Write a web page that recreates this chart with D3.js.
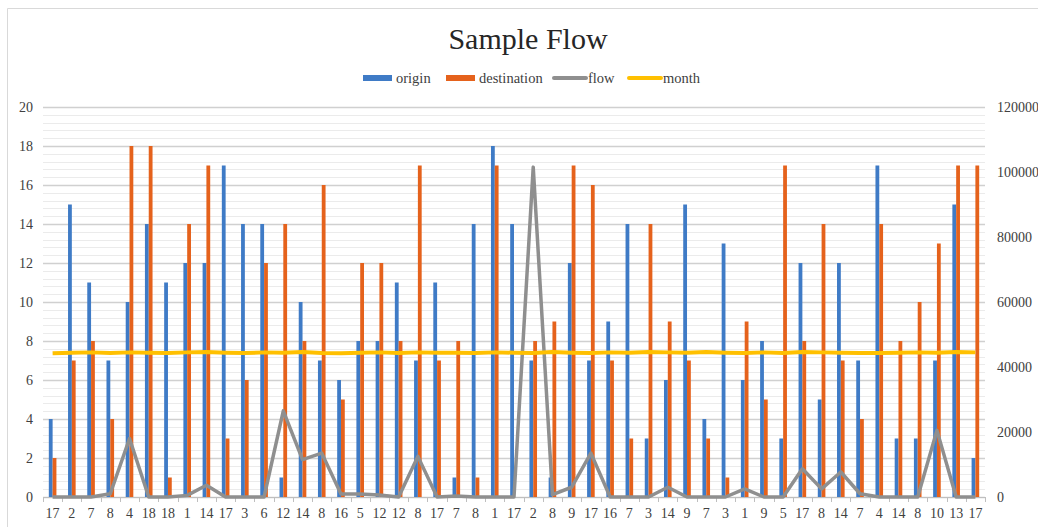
<!DOCTYPE html>
<html>
<head>
<meta charset="utf-8">
<script src="https://cdn.jsdelivr.net/npm/d3@7"></script>
<style>
body { margin: 0; background: #fff; }
svg text { font-family: "Liberation Serif", "DejaVu Serif", serif !important; fill: #404040; }
</style>
</head>
<body>
<div id="chart"></div>
<script>
// data
var labels = [17,2,7,8,4,18,18,1,14,17,3,6,12,14,8,16,5,12,12,8,17,7,8,1,17,2,8,9,17,16,7,3,14,9,7,3,1,9,5,17,8,14,7,4,14,8,10,13,17];
var origin = [4,15,11,7,10,14,11,12,12,17,14,14,1,10,7,6,8,8,11,7,11,1,14,18,14,7,1,12,7,9,14,3,6,15,4,13,6,8,3,12,5,12,7,17,3,3,7,15,2];
var destination = [2,7,8,4,18,18,1,14,17,3,6,12,14,8,16,5,12,12,8,17,7,8,1,17,0,8,9,17,16,7,3,14,9,7,3,1,9,5,17,8,14,7,4,14,8,10,13,17,17];
var flow = [0,0,0,1000,18000,0,0,500,3600,0,0,0,26500,11500,13500,900,900,600,0,12500,0,300,0,0,0,101500,700,3000,13500,0,0,0,3000,0,0,0,2500,0,0,8700,2500,7700,1000,0,0,0,20500,0,0];
var month = [44200,44400,44500,44300,44500,44400,44300,44500,44600,44400,44300,44500,44400,44600,44300,44200,44400,44500,44300,44500,44400,44400,44300,44500,44400,44300,44600,44400,44300,44500,44400,44600,44500,44400,44600,44400,44300,44500,44300,44600,44500,44400,44300,44300,44400,44500,44400,44600,44500];
var leftTicks = [0,2,4,6,8,10,12,14,16,18,20];
var rightTicks = [0,20000,40000,60000,80000,100000,120000];

var svgWidth = 1038,
	svgHeight = 527;

var margin = {t:107, r:53, b:30, l:43};
var width = svgWidth - margin.l - margin.r,
	height = svgHeight - margin.t - margin.b;

var svg = d3.select('#chart')
	.append('svg')
	.attr('width', svgWidth)
	.attr('height', svgHeight);

// chart frame
svg.append('path')
	.attr('d', `M7.5,${svgHeight} V8.5 H${svgWidth}`)
	.attr('fill', 'none')
	.attr('stroke', '#d9d9d9');

var chart = svg.append('g')
	.attr('transform', `translate(${margin.l},${margin.t})`);

var idx = d3.range(labels.length);

var xScale = d3.scaleBand()
	.domain(idx)
	.range([0, width]);

var xSub = d3.scaleBand()
	.domain(['origin','destination'])
	.range([-3.8, 3.8]);

var yLeft = d3.scaleLinear().domain([0, 20]).range([height, 0]);
var yRight = d3.scaleLinear().domain([0, 120000]).range([height, 0]);

// gridlines
var minor = d3.range(0, 20.01, 0.4);
var isMajor = d => Math.abs(d / 2 - Math.round(d / 2)) < 0.01;
chart.append('g').selectAll('line')
	.data(minor)
	.enter()
	.append('line')
	.attr('x1', 0)
	.attr('x2', width)
	.attr('y1', d => Math.round(yLeft(d)) + 0.5)
	.attr('y2', d => Math.round(yLeft(d)) + 0.5)
	.attr('stroke', d => isMajor(d) ? '#d0d0d0' : '#ebebeb')
	.attr('stroke-width', d => isMajor(d) ? 1.5 : 1);

// bars
var cx = i => xScale(i) + xScale.bandwidth() / 2;

chart.append('g').selectAll('rect')
	.data(idx)
	.enter()
	.append('rect')
	.attr('x', i => cx(i) + xSub('origin'))
	.attr('y', i => yLeft(origin[i]))
	.attr('width', xSub.bandwidth())
	.attr('height', i => height - yLeft(origin[i]))
	.attr('fill', '#3f7bc6');

chart.append('g').selectAll('rect')
	.data(idx)
	.enter()
	.append('rect')
	.attr('x', i => cx(i) + xSub('destination'))
	.attr('y', i => yLeft(destination[i]))
	.attr('width', xSub.bandwidth())
	.attr('height', i => height - yLeft(destination[i]))
	.attr('fill', '#e5621c');

// x axis
var xAxis = d3.axisBottom(xScale)
	.tickFormat(i => labels[i])
	.tickSize(0)
	.tickPadding(11);

var xg = chart.append('g')
	.attr('transform', `translate(0,${height})`)
	.call(xAxis)
	.attr('font-family', null);
xg.select('.domain').attr('stroke', '#bfbfbf');
xg.selectAll('text').style('font-size', '14px');

chart.append('g').selectAll('line')
	.data(d3.range(labels.length + 1))
	.enter()
	.append('line')
	.attr('x1', i => Math.round(i * xScale.step()) + 0.5)
	.attr('x2', i => Math.round(i * xScale.step()) + 0.5)
	.attr('y1', height)
	.attr('y2', height + 5)
	.attr('stroke', '#bfbfbf');

// y axes
var yl = chart.append('g')
	.call(d3.axisLeft(yLeft).tickValues(leftTicks).tickSize(0).tickPadding(10))
	.attr('font-family', null);
yl.select('.domain').remove();
yl.selectAll('text').style('font-size', '14px');

var yr = chart.append('g')
	.attr('transform', `translate(${width},0)`)
	.call(d3.axisRight(yRight).tickValues(rightTicks).tickSize(0).tickPadding(12).tickFormat(d3.format('d')))
	.attr('font-family', null);
yr.select('.domain').remove();
yr.selectAll('text').style('font-size', '14px');

// lines
var valueLine = d3.line()
	.x((d, i) => cx(i))
	.y(d => yRight(d));

chart.append('path')
	.datum(flow)
	.attr('d', valueLine)
	.attr('fill', 'none')
	.attr('stroke', '#8f8f8f')
	.attr('stroke-width', 3.5)
	.attr('stroke-linejoin', 'round');

chart.append('path')
	.datum(month)
	.attr('d', valueLine)
	.attr('fill', 'none')
	.attr('stroke', '#ffc000')
	.attr('stroke-width', 4)
	.attr('stroke-linejoin', 'round');

// title
svg.append('text')
	.attr('x', 528)
	.attr('y', 49)
	.attr('text-anchor', 'middle')
	.style('font-size', '30px')
	.style('fill', '#262626')
	.text('Sample Flow');

// legend
var legend = [
	{name:'origin', x:363, type:'rect', color:'#3f7bc6'},
	{name:'destination', x:446, type:'rect', color:'#e5621c'},
	{name:'flow', x:553, type:'line', color:'#8f8f8f'},
	{name:'month', x:628, type:'line', color:'#ffc000'}
];

var lg = svg.append('g').selectAll('g')
	.data(legend)
	.enter()
	.append('g')
	.attr('transform', d => `translate(${d.x},78)`);

lg.filter(d => d.type == 'rect')
	.append('rect')
	.attr('x', 0)
	.attr('y', -3)
	.attr('width', 29)
	.attr('height', 6)
	.attr('fill', d => d.color);

lg.filter(d => d.type == 'line')
	.append('line')
	.attr('x1', 1)
	.attr('x2', 33)
	.attr('stroke', d => d.color)
	.attr('stroke-width', 4)
	.attr('stroke-linecap', 'round');

lg.append('text')
	.attr('x', d => d.type == 'rect' ? 33 : 35)
	.attr('y', 5)
	.style('font-size', '14.5px')
	.text(d => d.name);
</script>
</body>
</html>
